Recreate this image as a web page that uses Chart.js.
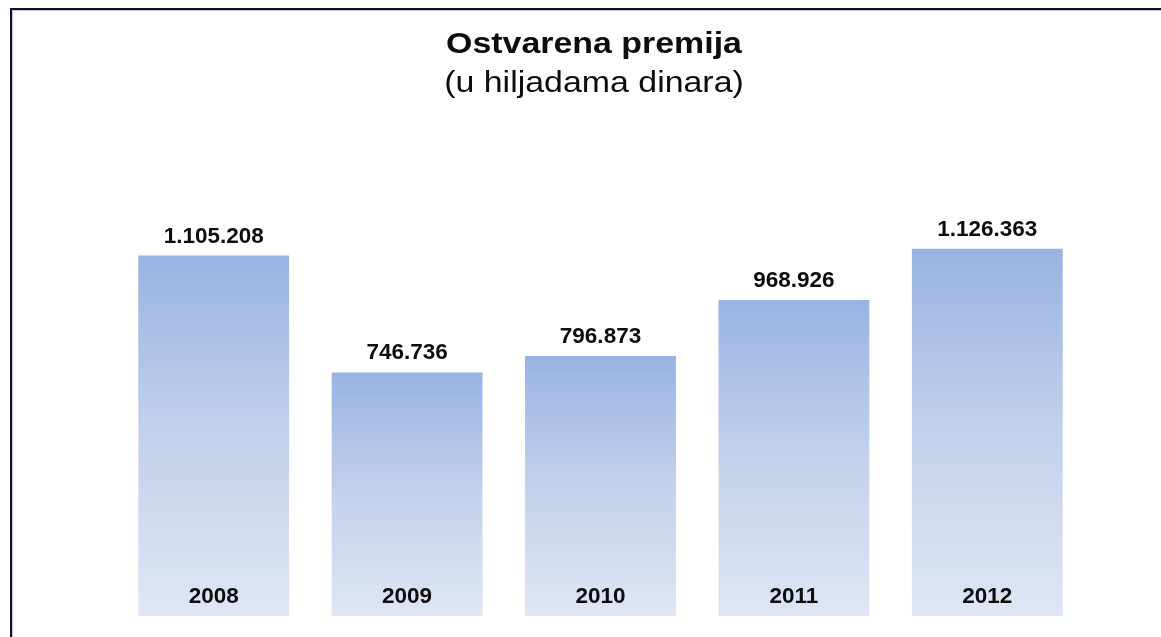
<!DOCTYPE html>
<html>
<head>
<meta charset="utf-8">
<title>Ostvarena premija</title>
<script src="https://cdn.jsdelivr.net/npm/chart.js@4.4.1/dist/chart.umd.min.js"></script>
<style>
  html, body { margin: 0; padding: 0; background: #ffffff; overflow: hidden; }
  #wrap { position: absolute; left: 0; top: 0; width: 1161px; height: 637px; overflow: hidden; }
  #frame {
    position: absolute; left: 10px; top: 8px; width: 1200px; height: 700px;
    border-left: 2px solid #111111; border-top: 2px solid #111111;
    box-shadow: inset 1px 1px 0 #b9cbe8;
    pointer-events: none;
  }
</style>
</head>
<body>
<div id="wrap">
  <canvas id="premium-chart" width="1161" height="637"></canvas>
  <div id="frame"></div>
</div>
<script>
// Chart data
const years = ["2008", "2009", "2010", "2011", "2012"];
const premiumValues = [1105208, 746736, 796873, 968926, 1126363];
const titleText = "Ostvarena premija";
const subtitleText = "(u hiljadama dinara)";

const FONT = "'Liberation Sans', Arial, sans-serif";

// 1105208 -> "1.105.208"
function formatDots(v) {
  return String(v).replace(/\B(?=(\d{3})+(?!\d))/g, ".");
}

// Vertical gradient per bar, darker at the top
function barGradient(context) {
  const chart = context.chart;
  const yScale = chart.scales.y;
  if (!yScale || context.raw === undefined) return "#9bb5e3";
  const top = yScale.getPixelForValue(context.raw);
  const bottom = yScale.getPixelForValue(0);
  if (!isFinite(top) || !isFinite(bottom)) return "#9bb5e3";
  const g = chart.ctx.createLinearGradient(0, top, 0, bottom);
  g.addColorStop(0, "#98b3e2");
  g.addColorStop(0.5, "#c3d1ec");
  g.addColorStop(1, "#dfe6f4");
  return g;
}

// Title, value labels and year labels inside bars
const labelPlugin = {
  id: "barLabels",
  afterDraw(chart) {
    const ctx = chart.ctx;
    const meta = chart.getDatasetMeta(0);
    const area = chart.chartArea;

    ctx.save();
    ctx.fillStyle = "#0d0d0d";
    ctx.textAlign = "center";
    ctx.textBaseline = "alphabetic";

    // title lines, slightly wide like the original
    const cx = 594;
    ctx.save();
    ctx.translate(cx, 0);
    ctx.scale(1.13, 1);
    ctx.font = "bold 30px " + FONT;
    ctx.fillText(titleText, 0, 53);
    ctx.font = "30px " + FONT;
    ctx.fillText(subtitleText, 0, 92);
    ctx.restore();

    ctx.font = "bold 22.5px " + FONT;
    meta.data.forEach((bar, i) => {
      ctx.fillText(formatDots(premiumValues[i]), bar.x, bar.y - 13);
      ctx.fillText(years[i], bar.x, area.bottom - 13);
    });
    ctx.restore();
  }
};

function initPremiumChart() {
  const canvas = document.getElementById("premium-chart");
  if (!canvas) return;

  new Chart(canvas.getContext("2d"), {
    type: "bar",
    data: {
      labels: years,
      datasets: [{
        data: premiumValues,
        backgroundColor: barGradient,
        borderWidth: 0,
        barPercentage: 0.78,
        categoryPercentage: 1
      }]
    },
    options: {
      responsive: false,
      animation: false,
      layout: { padding: { left: 117, right: 77, top: 192, bottom: 21 } },
      plugins: {
        legend: { display: false },
        tooltip: { enabled: false },
        title: { display: false }
      },
      scales: {
        x: { display: false },
        y: { display: false, min: 0, max: 1300000 }
      }
    },
    plugins: [labelPlugin]
  });
}

document.addEventListener("DOMContentLoaded", initPremiumChart);
</script>
</body>
</html>
